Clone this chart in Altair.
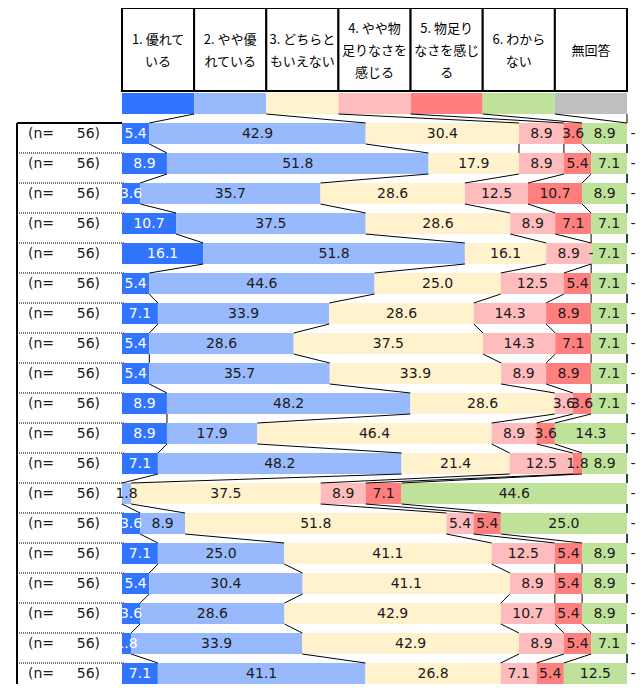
import altair as alt
import pandas as pd

# ---- data ----
categories = ["1. 優れている", "2. やや優れている", "3. どちらともいえない",
              "4. やや物足りなさを感じる", "5. 物足りなさを感じる", "6. わからない", "無回答"]
header_lines = ["1. 優れて\nいる", "2. やや優\nれている", "3. どちらと\nもいえない",
                "4. やや物\n足りなさを\n感じる", "5. 物足り\nなさを感じ\nる", "6. わから\nない", "無回答"]
colors = ["#3174FF", "#98BAFD", "#FFF2CC", "#FFBCBC", "#FF7F7F", "#BEE29A", "#BFBFBF"]
n_values = [56] * 19

c1 = [5.4, 8.9, 3.6, 10.7, 16.1, 5.4, 7.1, 5.4, 5.4, 8.9, 8.9, 7.1, 0.0, 3.6, 7.1, 5.4, 3.6, 1.8, 7.1]
c2 = [42.9, 51.8, 35.7, 37.5, 51.8, 44.6, 33.9, 28.6, 35.7, 48.2, 17.9, 48.2, 1.8, 8.9, 25.0, 30.4, 28.6, 33.9, 41.1]
c3 = [30.4, 17.9, 28.6, 28.6, 16.1, 25.0, 28.6, 37.5, 33.9, 28.6, 46.4, 21.4, 37.5, 51.8, 41.1, 41.1, 42.9, 42.9, 26.8]
c4 = [8.9, 8.9, 12.5, 8.9, 8.9, 12.5, 14.3, 14.3, 8.9, 3.6, 8.9, 12.5, 8.9, 5.4, 12.5, 8.9, 10.7, 8.9, 7.1]
c5 = [3.6, 5.4, 10.7, 7.1, 0.0, 5.4, 8.9, 7.1, 8.9, 3.6, 3.6, 1.8, 7.1, 5.4, 5.4, 5.4, 5.4, 5.4, 5.4]
c6 = [8.9, 7.1, 8.9, 7.1, 7.1, 7.1, 7.1, 7.1, 7.1, 7.1, 14.3, 8.9, 44.6, 25.0, 8.9, 8.9, 8.9, 7.1, 12.5]
c7 = [0.0] * 19

series = [c1, c2, c3, c4, c5, c6, c7]
nrows = len(c1)
BAR = 0.7  # bar thickness as a fraction of the row step

# ---- derived tables ----
seg_rows = []
ends = {}
acc = 0.0
ends[0] = []
for k, cat in enumerate(categories):  # row 0: header colour swatches (equal shares)
    share = 100.0 / len(categories)
    seg_rows.append(dict(row=0, k=k, cat=cat, value=None, start=acc, end=acc + share))
    acc += share
    ends[0].append(acc)
for i in range(nrows):
    r = i + 1
    vals = [s[i] for s in series]
    tot = sum(vals)
    acc = 0.0
    ends[r] = []
    for k, cat in enumerate(categories):
        w = vals[k] / tot * 100.0
        seg_rows.append(dict(row=r, k=k, cat=cat, value=vals[k], start=acc, end=acc + w))
        acc += w
        ends[r].append(acc)
seg = pd.DataFrame(seg_rows)
seg["ytop"] = seg["row"]
seg["ybot"] = seg["row"] + BAR
seg["ymid"] = seg["row"] + BAR / 2
seg["mid"] = (seg["start"] + seg["end"]) / 2
seg["label"] = seg["value"].apply(lambda v: "" if pd.isna(v) else ("-" if v == 0 else f"{v:.1f}"))

conn = []
for r in range(0, nrows):
    for k in range(len(categories)):
        conn.append(dict(x=ends[r][k], x2=ends[r + 1][k], y=r + BAR, y2=r + 1))
conn = pd.DataFrame(conn)

hdr = pd.DataFrame(dict(cat=categories, text=header_lines,
                        start=[ends[0][k] - 100.0 / 7 for k in range(7)], end=ends[0]))
hdr["mid"] = (hdr["start"] + hdr["end"]) / 2
hdr["nlines"] = hdr["text"].str.count("\n") + 1

left = pd.DataFrame(dict(row=list(range(1, nrows + 1)), n=n_values))
left["ytop"] = left["row"]
left["ymid"] = left["row"] + BAR / 2
left["a"] = "(n="
left["b"] = left["n"].astype(str) + ")"

# ---- scales ----
PLOT_H = 591
STEP = 30.0
xs = alt.Scale(domain=[0, 100], nice=False, zero=False)
ys = alt.Scale(domain=[0, PLOT_H / STEP], nice=False, zero=False, reverse=True)
X = lambda f: alt.X(f, type="quantitative", scale=xs, axis=None)
Y = lambda f: alt.Y(f, type="quantitative", scale=ys, axis=None)

bars = alt.Chart(seg).mark_rect().encode(
    x=X("start"), x2="end", y=Y("ytop"), y2="ybot",
    color=alt.Color("cat:N", scale=alt.Scale(domain=categories, range=colors), legend=None),
)

links = alt.Chart(conn).mark_rule(color="black", strokeWidth=1).encode(
    x=X("x"), x2="x2", y=Y("y"), y2="y2")

lab_data = seg[seg["row"] > 0]
txt_font = dict(font="DejaVu Sans", fontSize=14, baseline="middle", align="center")
lab_white = alt.Chart(lab_data[(lab_data["k"] == 0) & (lab_data["value"] > 0)]).mark_text(
    color="white", **txt_font).encode(x=X("mid"), y=Y("ymid"), text="label:N")
lab_black = alt.Chart(lab_data[lab_data["k"].between(1, 5)]).mark_text(
    color="#1a1a1a", **txt_font).encode(x=X("mid"), y=Y("ymid"), text="label:N")
lab_end = alt.Chart(lab_data[lab_data["k"] == 6]).mark_text(
    color="#1a1a1a", dx=6, **txt_font).encode(x=X("end"), y=Y("ymid"), text="label:N")

# header table
hdr_box = alt.Chart(hdr).mark_rect(fill="white", stroke="black", strokeWidth=2).encode(
    x=X("start"), x2="end", y=alt.value(-85), y2=alt.value(-2))
hdr_font = dict(font="Noto Sans CJK JP", fontSize=13, lineBreak="\n", lineHeight=22,
                baseline="middle", align="center", color="black")
hdr_txt = [
    alt.Chart(hdr[hdr["nlines"] == n]).mark_text(**hdr_font).encode(
        x=X("mid"), y=alt.value(yv), text="text:N")
    for n, yv in [(1, -42), (2, -53), (3, -64)]
]

# left label box
box_v = alt.Chart(left[left["row"] == 1]).mark_rule(color="black", strokeWidth=2).encode(
    x=alt.value(-105), y=Y("ytop"), y2=alt.value(PLOT_H))
box_top = alt.Chart(left[left["row"] == 1]).mark_rule(color="black", strokeWidth=2).encode(
    x=alt.value(-105), x2=alt.value(0), y=Y("ytop"))
box_sep = alt.Chart(left[left["row"] > 1]).mark_rule(color="#777777", strokeWidth=2, strokeDash=[1, 1]).encode(
    x=alt.value(-105), x2=alt.value(3), y=Y("ytop"))
n_a = alt.Chart(left).mark_text(font="DejaVu Sans", fontSize=14, align="left", baseline="middle",
                                color="#1a1a1a").encode(x=alt.value(-94), y=Y("ymid"), text="a:N")
n_b = alt.Chart(left).mark_text(font="DejaVu Sans", fontSize=14, align="right", baseline="middle",
                                color="#1a1a1a").encode(x=alt.value(-22), y=Y("ymid"), text="b:N")

chart = alt.layer(
    box_sep, box_v, box_top, bars, links, lab_white, lab_black, lab_end,
    hdr_box, *hdr_txt, n_a, n_b
).properties(
    width=505, height=PLOT_H,
    autosize=alt.AutoSizeParams(type="none"),
    padding={"left": 114, "top": 85, "right": 9, "bottom": 0},
).configure_view(stroke=None)

chart.save("out.html", embed_options={"renderer": "svg", "actions": False})
